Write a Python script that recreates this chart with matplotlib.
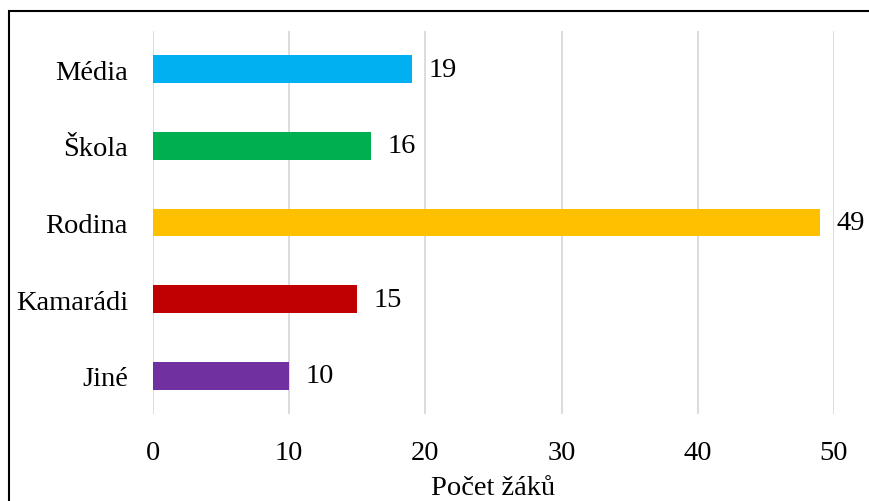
import matplotlib
matplotlib.use("Agg")
import matplotlib.pyplot as plt
from matplotlib.patches import Rectangle

categories = ["Média", "Škola", "Rodina", "Kamarádi", "Jiné"]
counts = [19, 16, 49, 15, 10]
colors = ["#00B0F0", "#00B050", "#FFC000", "#C00000", "#7030A0"]
x_ticks = [0, 10, 20, 30, 40, 50]

plt.rcParams["font.family"] = ["Liberation Serif", "DejaVu Serif"]
FS = 20.5

fig = plt.figure(figsize=(8.69, 5.02), dpi=100)
ax = fig.add_axes([153 / 869, 1 - 415 / 502, (834 - 153) / 869, (415 - 32) / 502])

ypos = list(range(len(categories)))[::-1]
ax.barh(ypos, counts, height=0.365, color=colors, zorder=3)
for y, v in zip(ypos, counts):
    ax.text(v + 1.2, y, str(v), va="center", ha="left", fontsize=FS)

ax.set_xlim(0, 50)
ax.set_ylim(-0.5, len(categories) - 0.5)
ax.set_xticks(x_ticks)
ax.set_yticks(ypos)
ax.set_yticklabels(categories)
ax.tick_params(axis="both", length=0, labelsize=FS)
ax.tick_params(axis="y", pad=18)
ax.tick_params(axis="x", pad=19)
ax.xaxis.grid(True, color="#D9D9D9", linewidth=1.3, zorder=0)
ax.set_axisbelow(True)
for s in ax.spines.values():
    s.set_visible(False)
ax.set_xlabel("Počet žáků", fontsize=FS, labelpad=7)

# outer frame, cut off at the right and bottom like the source image
fig.patches.append(Rectangle((8.5 / 869, -0.05), 1.1, 1.05 - 11.5 / 502,
                             transform=fig.transFigure, fill=False,
                             edgecolor="black", linewidth=1.5, clip_on=False))

fig.savefig("out.png", dpi=100, facecolor="white")
